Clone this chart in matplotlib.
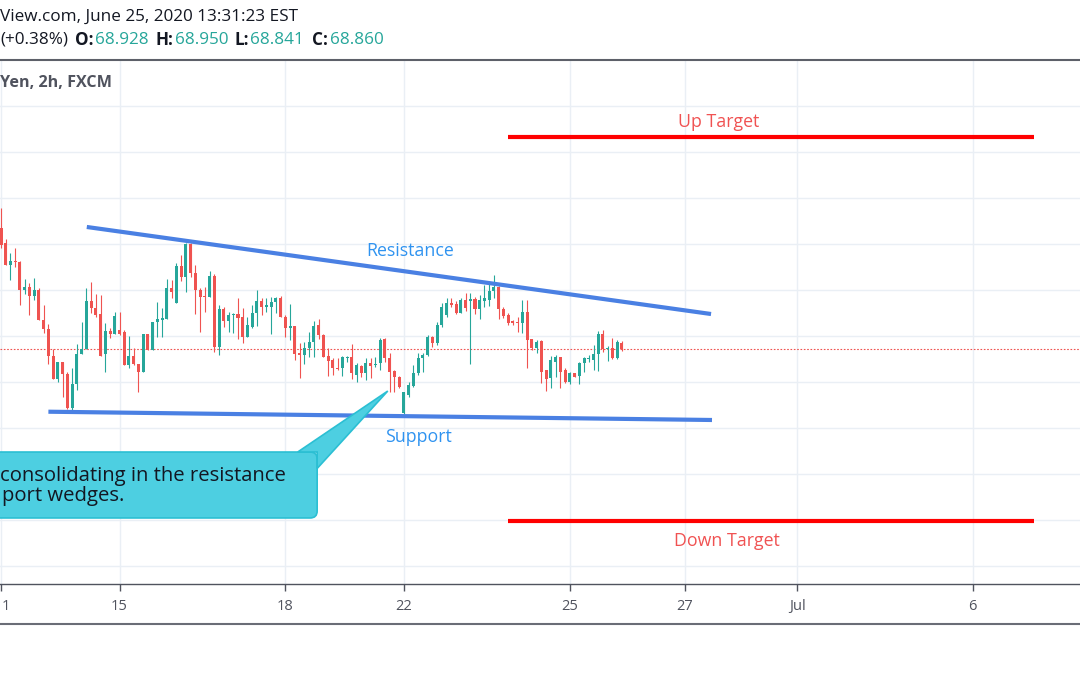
import numpy as np
import matplotlib
matplotlib.use("Agg")
import matplotlib.pyplot as plt
from matplotlib.patches import FancyBboxPatch, Polygon
from matplotlib.lines import Line2D
from matplotlib.transforms import IdentityTransform, blended_transform_factory

# ---------------- data ----------------
opens = [
    70.170, 70.007, 69.772, 69.815, 69.808, 69.500, 69.529, 69.439, 69.500, 69.174,
    69.073, 68.786, 68.533, 68.714, 68.587, 68.214, 68.478, 68.804, 68.855, 69.381,
    69.308, 69.236, 68.804, 69.054, 69.022, 69.065, 69.040, 68.685, 68.786, 68.696,
    68.605, 69.022, 68.848, 69.156, 69.174, 69.185, 69.518, 69.355, 69.761, 69.638,
    69.996, 69.681, 69.500, 69.435, 69.428, 69.656, 68.877, 69.294, 69.167, 69.225,
    69.236, 69.210, 68.993, 69.102, 69.246, 69.381, 69.319, 69.319, 69.366, 69.410,
    69.210, 69.091, 69.109, 68.812, 68.794, 68.866, 68.930, 69.120, 69.011, 68.786,
    68.739, 68.649, 68.649, 68.765, 68.775, 68.576, 68.674, 68.594, 68.703, 68.685,
    68.703, 68.967, 68.757, 68.623, 68.558, 68.167, 68.359, 68.456, 68.594, 68.757,
    68.793, 68.993, 68.920, 69.119, 69.228, 69.355, 69.348, 69.254, 69.391, 69.384,
    69.398, 69.290, 69.384, 69.391, 69.493, 69.536, 69.290, 69.228, 69.167, 69.156,
    69.138, 69.264, 68.964, 68.866, 68.949, 68.630, 68.540, 68.721, 68.775, 68.630,
    68.504, 68.594, 68.565, 68.703, 68.754, 68.739, 68.804, 69.022, 68.855, 68.866,
    68.757, 68.928]
highs = [
    70.388, 70.051, 69.899, 69.953, 69.815, 69.616, 69.573, 69.627, 69.518, 69.337,
    69.127, 68.855, 68.714, 68.714, 68.612, 68.649, 68.913, 69.149, 69.518, 69.591,
    69.453, 69.446, 69.145, 69.083, 69.265, 69.265, 69.065, 69.000, 68.866, 68.696,
    69.022, 69.022, 69.156, 69.373, 69.301, 69.616, 69.609, 69.797, 69.880, 70.015,
    70.007, 69.772, 69.518, 69.536, 69.707, 69.670, 69.337, 69.319, 69.265, 69.246,
    69.410, 69.301, 69.203, 69.337, 69.500, 69.410, 69.410, 69.420, 69.428, 69.435,
    69.228, 69.344, 69.109, 68.928, 68.939, 69.047, 69.167, 69.181, 69.022, 68.866,
    68.757, 68.757, 68.786, 68.786, 68.913, 68.703, 68.685, 68.757, 68.757, 68.775,
    68.975, 68.982, 68.812, 68.630, 68.565, 68.395, 68.504, 68.685, 68.812, 68.812,
    69.011, 69.000, 69.156, 69.362, 69.409, 69.409, 69.384, 69.409, 69.464, 69.464,
    69.427, 69.446, 69.554, 69.572, 69.663, 69.543, 69.319, 69.246, 69.174, 69.210,
    69.391, 69.391, 68.964, 68.956, 68.956, 68.630, 68.783, 68.793, 68.775, 68.649,
    68.612, 68.601, 68.721, 68.775, 68.793, 68.902, 69.058, 69.065, 68.891, 68.975,
    68.956, 68.950]
lows = [
    69.953, 69.772, 69.609, 69.754, 69.337, 69.457, 69.228, 69.391, 69.174, 69.029,
    68.696, 68.533, 68.497, 68.341, 68.203, 68.196, 68.413, 68.804, 68.855, 69.246,
    69.210, 68.786, 68.605, 68.975, 69.022, 69.011, 68.685, 68.649, 68.685, 68.395,
    68.605, 68.848, 68.848, 68.993, 68.986, 69.185, 69.410, 69.355, 69.602, 69.482,
    69.645, 69.236, 69.047, 69.265, 69.428, 68.823, 68.794, 69.094, 69.047, 69.029,
    68.967, 68.920, 68.993, 69.083, 69.109, 69.228, 69.265, 69.022, 69.246, 69.203,
    68.993, 68.957, 68.739, 68.540, 68.696, 68.775, 68.775, 68.967, 68.775, 68.565,
    68.576, 68.630, 68.565, 68.721, 68.529, 68.504, 68.551, 68.522, 68.540, 68.667,
    68.630, 68.721, 68.395, 68.395, 68.431, 68.152, 68.341, 68.449, 68.576, 68.612,
    68.786, 68.884, 68.902, 69.101, 69.210, 69.319, 69.239, 69.246, 69.275, 68.696,
    69.239, 69.181, 69.319, 69.326, 69.409, 69.181, 69.192, 69.119, 69.119, 69.047,
    69.036, 68.649, 68.848, 68.812, 68.485, 68.406, 68.431, 68.558, 68.431, 68.493,
    68.478, 68.551, 68.475, 68.612, 68.721, 68.630, 68.623, 68.830, 68.732, 68.746,
    68.746, 68.841]
closes = [
    69.989, 69.772, 69.815, 69.801, 69.500, 69.529, 69.439, 69.500, 69.174, 69.073,
    68.786, 68.533, 68.714, 68.587, 68.214, 68.478, 68.804, 68.855, 69.381, 69.301,
    69.228, 68.786, 69.054, 69.022, 69.217, 69.022, 68.685, 68.786, 68.696, 68.605,
    69.022, 68.848, 69.156, 69.185, 69.192, 69.518, 69.482, 69.761, 69.638, 69.996,
    69.681, 69.500, 69.428, 69.428, 69.656, 68.877, 69.294, 69.167, 69.228, 69.236,
    69.192, 68.993, 69.120, 69.246, 69.381, 69.319, 69.337, 69.366, 69.410, 69.203,
    69.083, 69.109, 68.804, 68.794, 68.866, 68.939, 69.109, 69.011, 68.775, 68.732,
    68.649, 68.638, 68.775, 68.775, 68.594, 68.685, 68.594, 68.703, 68.674, 68.696,
    68.956, 68.757, 68.612, 68.558, 68.449, 68.395, 68.467, 68.594, 68.757, 68.793,
    68.993, 68.920, 69.119, 69.319, 69.355, 69.337, 69.254, 69.391, 69.301, 69.398,
    69.290, 69.391, 69.409, 69.493, 69.536, 69.290, 69.217, 69.145, 69.145, 69.138,
    69.264, 68.956, 68.866, 68.938, 68.612, 68.529, 68.739, 68.775, 68.612, 68.504,
    68.594, 68.558, 68.710, 68.757, 68.764, 68.804, 69.022, 68.855, 68.866, 68.757,
    68.938, 68.860]

# x-axis day ticks (bar index) and labels (first label is cut to "1" in the source)
tick_bars = [0, 25, 60, 85, 120, 144.3, 168, 205]
tick_labels = ["", "15", "18", "22", "25", "27", "Jul", "6"]
first_label = "1"

# drawings (bar index, price)
resistance_x = [18.1, 149.8]
resistance_y = [70.185, 69.239]
support_x = [10.0, 150.0]
support_y = [68.177, 68.087]
target_x = [107.0, 218.0]
up_target = 71.166
down_target = 66.989

# header values
hdr_open, hdr_high, hdr_low, hdr_close = "68.928", "68.950", "68.841", "68.860"

# ---------------- style ----------------
GREEN = "#26a69a"
RED = "#ef5350"
BLUE_LINE = "#4a80e3"
BLUE_TEXT = "#2f93f0"
TARGET_RED = "#ff0000"
TARGET_TEXT = "#f05252"
GRID = "#eaeff5"
AXIS = "#50535e"
FONT = "Open Sans"

W, H, DPI = 1080, 675, 100
fig = plt.figure(figsize=(W / DPI, H / DPI), dpi=DPI)
fig.patch.set_facecolor("white")


def fy(py):
    return 1 - py / H


def fx(px):
    return px / W


ax = fig.add_axes([0, fy(584), 1, fy(60) - fy(584)])
ax.set_facecolor("white")
PX_PER_BAR = 4.74
ax.set_xlim(-1 / PX_PER_BAR, 1079 / PX_PER_BAR)
ax.set_ylim(66.3043, 72.0)

o = np.array(opens); h = np.array(highs); l = np.array(lows); c = np.array(closes)
idx = np.arange(len(o))
colors = np.where(c >= o, GREEN, RED)

# grid
ax.set_yticks(np.arange(66.5, 71.51, 0.5))
ax.set_xticks(tick_bars)
ax.set_xticklabels(tick_labels, fontfamily=FONT)
ax.grid(True, color=GRID, linewidth=1.0)
ax.set_axisbelow(True)
ax.tick_params(axis="y", left=False, labelleft=False)
ax.tick_params(axis="x", length=5, width=1, color=AXIS, labelcolor=AXIS,
               labelsize=10.5, pad=5.5)
for s in ["top", "left", "right"]:
    ax.spines[s].set_visible(False)
ax.spines["bottom"].set_color(AXIS)
ax.spines["bottom"].set_linewidth(1.0)
fig.text(fx(1.5), fy(606), first_label, color=AXIS, fontsize=10.5,
         fontfamily=FONT, ha="left", va="center")

# candles
ax.vlines(idx, l, h, colors=colors, linewidth=0.8, zorder=3)
ax.bar(idx, np.maximum(np.abs(c - o), 0.005), bottom=np.minimum(o, c),
       width=0.64, color=colors, linewidth=0, zorder=4)

# last price line
ax.axhline(c[-1], color=RED, linewidth=0.8, linestyle=(0, (1.5, 1.5)), zorder=2)

# trend lines
ax.plot(resistance_x, resistance_y, color=BLUE_LINE, linewidth=3, zorder=5,
        solid_capstyle="butt")
ax.plot(support_x, support_y, color=BLUE_LINE, linewidth=3, zorder=5,
        solid_capstyle="butt")
ax.text(86.3, 69.925, "Resistance", color=BLUE_TEXT, fontsize=12.8,
        fontfamily=FONT, ha="center", va="center", zorder=6)
ax.text(88.0, 67.903, "Support", color=BLUE_TEXT, fontsize=12.8,
        fontfamily=FONT, ha="center", va="center", zorder=6)

# targets
ax.plot(target_x, [up_target, up_target], color=TARGET_RED, linewidth=3,
        zorder=5, solid_capstyle="butt")
ax.plot(target_x, [down_target, down_target], color=TARGET_RED, linewidth=3,
        zorder=5, solid_capstyle="butt")
ax.text(151.5, 71.327, "Up Target", color=TARGET_TEXT, fontsize=12.8,
        fontfamily=FONT, ha="center", va="center", zorder=6)
ax.text(153.2, 66.772, "Down Target", color=TARGET_TEXT, fontsize=12.8,
        fontfamily=FONT, ha="center", va="center", zorder=6)

# callout
CALL_FILL = "#4dcfe1"
CALL_EDGE = "#2bbfd3"
box_left, box_right = -4.4, 66.7
box_bottom, box_top = 67.022, 67.739
(x0, y0) = ax.transData.transform((box_left, box_bottom))
(x1, y1) = ax.transData.transform((box_right, box_top))
box = FancyBboxPatch((x0, y0), x1 - x0, y1 - y0,
                     boxstyle="round,pad=0,rounding_size=7",
                     transform=IdentityTransform(), facecolor=CALL_FILL,
                     edgecolor=CALL_EDGE, linewidth=1.2, zorder=7)
ax.add_patch(box)
pointer = Polygon([(81.6, 68.402), (62.6, 67.739), (66.7, 67.739),
                   (66.7, 67.560)], closed=True, facecolor=CALL_FILL,
                  edgecolor=CALL_EDGE, linewidth=1.2, zorder=7)
ax.add_patch(pointer)
trans = blended_transform_factory(ax.transAxes, ax.transData)
ax.text(0.0, 67.475, "consolidating in the resistance", transform=trans,
        color="#131722", fontsize=14.6, fontfamily=FONT, ha="left",
        va="center", zorder=8)
ax.text(0.0015, 67.258, "port wedges.", transform=trans, color="#131722",
        fontsize=14.6, fontfamily=FONT, ha="left", va="center", zorder=8)

# header
HDR_SIZE = 12.3
fig.text(fx(0), fy(17), "View.com, June 25, 2020 13:31:23 EST", color="#131722",
         fontsize=HDR_SIZE, fontfamily=FONT, ha="left", va="center")
yy = fy(40)
pieces = [
    (0, "(+0.38%)", "#131722", "normal"),
    (75, "O:", "#131722", "bold"), (95, hdr_open, GREEN, "normal"),
    (156, "H:", "#131722", "bold"), (175, hdr_high, GREEN, "normal"),
    (234, "L:", "#131722", "bold"), (250, hdr_low, GREEN, "normal"),
    (312, "C:", "#131722", "bold"), (330, hdr_close, GREEN, "normal"),
]
for px, s, col, wt in pieces:
    fig.text(fx(px), yy, s, color=col, fontsize=HDR_SIZE, fontweight=wt,
             fontfamily=FONT, ha="left", va="center")
fig.text(fx(0), fy(83), "Yen, 2h, FXCM", color="#50535e", fontsize=11.6,
         fontweight="bold", fontfamily=FONT, ha="left", va="center")

# borders
fig.add_artist(Line2D([0, 1], [fy(59.5), fy(59.5)], color="#5d6069",
                      linewidth=1.5))
fig.add_artist(Line2D([0, 1], [fy(624), fy(624)], color="#6a6d76",
                      linewidth=1.5))

fig.savefig("out.png", dpi=DPI, facecolor="white")
